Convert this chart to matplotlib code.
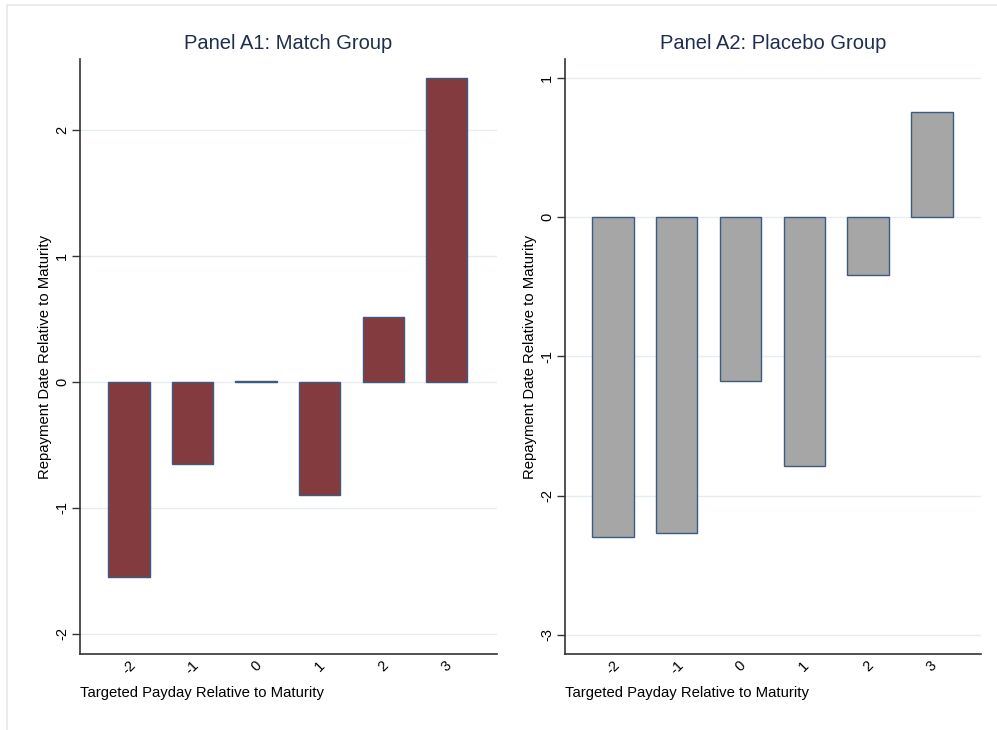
import matplotlib.pyplot as plt
from matplotlib.patches import Rectangle

plt.rcParams['font.family'] = ['Liberation Sans', 'DejaVu Sans']

# targeted payday relative to maturity
paydays = [-2, -1, 0, 1, 2, 3]
# mean repayment date relative to maturity
match_means = [-1.55, -0.65, 0.005, -0.90, 0.51, 2.41]
placebo_means = [-2.30, -2.27, -1.18, -1.79, -0.42, 0.75]

match_yticks = [-2, -1, 0, 1, 2]
placebo_yticks = [-3, -2, -1, 0, 1]

title_color = '#1f2d4f'
edge_color = '#3d5a80'
grid_color = '#e6edf1'

fig = plt.figure(figsize=(9.97, 7.30), dpi=100)
fig.patches.append(Rectangle((7 / 997, -0.1), 1.2, (730 - 5) / 730 + 0.1,
                             transform=fig.transFigure, fill=False,
                             edgecolor='#e8e8e8', lw=1.2))

ax1 = fig.add_axes([80 / 997, 76 / 730, 417 / 997, 595 / 730])
ax2 = fig.add_axes([565 / 997, 76 / 730, 416 / 997, 595 / 730])


def draw_panel(ax, values, color, yticks, ylim, xlim, title):
    ax.set_axisbelow(True)
    for t in yticks:
        ax.axhline(t, color=grid_color, lw=1.0, zorder=0)
    ax.bar(paydays, values, width=0.65, color=color, edgecolor=edge_color,
           linewidth=1.0, zorder=2)
    ax.set_xlim(*xlim)
    ax.set_ylim(*ylim)
    ax.set_xticks(paydays)
    ax.set_xticklabels([str(p) for p in paydays], rotation=45, ha='center',
                       fontsize=10.5)
    ax.set_yticks(yticks)
    ax.set_yticklabels([str(t) for t in yticks], rotation=90, va='center',
                       fontsize=10.5)
    ax.tick_params(axis='x', length=0, pad=3)
    ax.tick_params(axis='y', length=6, width=1.0, color='#333333', pad=2)
    for s in ['top', 'right']:
        ax.spines[s].set_visible(False)
    for s in ['left', 'bottom']:
        ax.spines[s].set_color('#333333')
        ax.spines[s].set_linewidth(1.2)
    ax.set_title(title, fontsize=14.5, color=title_color, pad=7)
    ax.set_ylabel('Repayment Date Relative to Maturity', fontsize=10.7,
                  labelpad=2)
    ax.set_xlabel('Targeted Payday Relative to Maturity', fontsize=10.7,
                  loc='left', labelpad=6)


draw_panel(ax1, match_means, '#843b3f', match_yticks, (-2.16, 2.56),
           (-2.77, 3.79), 'Panel A1: Match Group')
draw_panel(ax2, placebo_means, '#a6a6a6', placebo_yticks, (-3.137, 1.134),
           (-2.75, 3.77), 'Panel A2: Placebo Group')

fig.savefig('out.png', dpi=100, facecolor='white')
